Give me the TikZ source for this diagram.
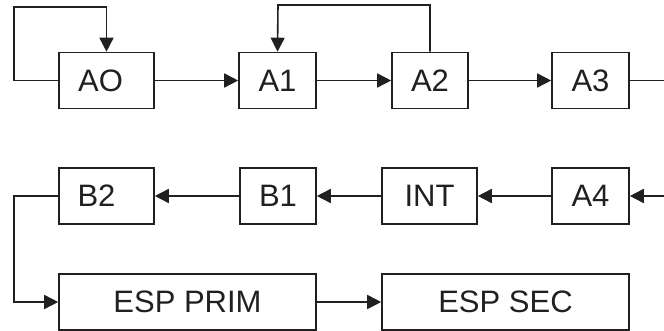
\documentclass[tikz,border=0pt]{standalone}
\usepackage{fontspec}
\setmainfont{Liberation Sans}
\usetikzlibrary{arrows.meta}
\definecolor{ink}{HTML}{231F20}
\begin{document}
\begin{tikzpicture}[x=1pt,y=-1pt,
  box/.style={draw=ink, line width=1.6pt, minimum height=56pt, inner sep=0pt, text=ink,
    font=\fontsize{31}{33}\selectfont},
  arr/.style={draw=ink, line width=1.6pt, -{Triangle[length=14pt,width=14pt]}},
  ln/.style={draw=ink, line width=1.6pt}]
\useasboundingbox (0,0) rectangle (664,331);
% row 1
\node[box, minimum width=95pt] (AO) at (106.5,80.5) {\kern-6pt AO\kern6pt};
\node[box, minimum width=77pt] (A1) at (277.5,80.5) {A1};
\node[box, minimum width=76pt] (A2) at (430,80.5) {A2};
\node[box, minimum width=77pt] (A3) at (590.5,80.5) {A3};
% row 2
\node[box, minimum width=95pt] (B2) at (106.5,196) {\kern-10pt B2\kern10pt};
\node[box, minimum width=76pt] (B1) at (278,196) {B1};
\node[box, minimum width=95pt] (INT) at (429.5,196) {INT};
\node[box, minimum width=77pt] (A4) at (590.5,196) {A4};
% row 3
\node[box, minimum width=257pt] (EP) at (187.5,302) {ESP PRIM};
\node[box, minimum width=247pt] (ES) at (505.5,302) {ESP SEC};
% helper coordinates
\coordinate (l0) at (14,7);
\coordinate (l1) at (278,5);
\coordinate (r1) at (664,80.5);
\coordinate (r2) at (664,196);
\coordinate (l2) at (14,196);
% connectors
\draw[arr] (AO.west) -| (l0) -| (AO.north);
\draw[arr] (AO.east) -- (A1.west);
\draw[arr] (A1.east) -- (A2.west);
\draw[arr] (A2.north) |- (l1) -- (A1.north);
\draw[arr] (A2.east) -- (A3.west);
\draw[ln] (A3.east) -- (r1);
\draw[arr] (r2) -- (A4.east);
\draw[arr] (A4.west) -- (INT.east);
\draw[arr] (INT.west) -- (B1.east);
\draw[arr] (B1.west) -- (B2.east);
\draw[arr] (B2.west) -- (l2) |- (EP.west);
\draw[arr] (EP.east) -- (ES.west);
\end{tikzpicture}
\end{document}
